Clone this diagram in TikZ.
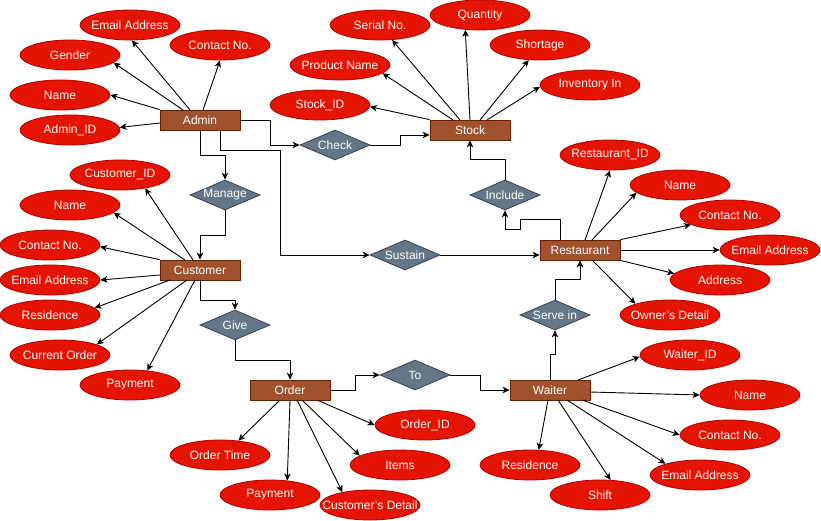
\documentclass[tikz,border=0pt]{standalone}
\usepackage{fontspec}
\setmainfont{Liberation Sans}
\usetikzlibrary{shapes.geometric,arrows.meta,calc}
\definecolor{attrfill}{HTML}{E51400}
\definecolor{attrline}{HTML}{B20000}
\definecolor{entfill}{HTML}{A0522D}
\definecolor{entline}{HTML}{6D1F00}
\definecolor{relfill}{HTML}{647687}
\definecolor{relline}{HTML}{314354}
\newcommand{\zw}[1]{\makebox[0pt][c]{#1}}
\newcommand{\apos}{{\char39}}
\begin{document}
\begin{tikzpicture}[x=1pt,y=-1pt,
  base/.style={text=white, inner sep=0pt, font=\fontsize{12}{14}\selectfont, line width=0.8pt},
  attr/.style={base, ellipse, fill=attrfill, draw=attrline, minimum width=100pt, minimum height=30pt},
  ent/.style={base, rectangle, fill=entfill, draw=entline, minimum width=80pt, minimum height=20pt},
  rel/.style={base, diamond, fill=relfill, draw=relline, minimum width=70pt, minimum height=30pt},
  arr/.style={-{Stealth[length=7pt,width=6.5pt,inset=2pt]}, line width=0.9pt, black}]
\fill[white] (0,0) rectangle (821,521);
\useasboundingbox (0,0) rectangle (821,521);

% entities
\node[ent] (admin) at (200,120) {\zw{Admin}};
\node[ent] (stock) at (470,130) {\zw{Stock}};
\node[ent] (restaurant) at (580,250) {\zw{Restaurant}};
\node[ent] (customer) at (200,270) {\zw{Customer}};
\node[ent] (order) at (290,390) {\zw{Order}};
\node[ent] (waiter) at (550,390) {\zw{Waiter}};

% relationships
\node[rel] (check) at (335,145) {\zw{Check}};
\node[rel] (manage) at (225,195) {\zw{Manage}};
\node[rel] (sustain) at (405,255) {\zw{Sustain}};
\node[rel] (include) at (505,195) {\zw{Include}};
\node[rel] (give) at (235,325) {\zw{Give}};
\node[rel] (to) at (415,375) {\zw{To}};
\node[rel] (servein) at (555,315) {\zw{Serve in}};

% admin attributes
\node[attr] (aemail) at (130,25) {\zw{Email Address}};
\node[attr] (acontact) at (220,45) {\zw{Contact No.}};
\node[attr] (agender) at (70,55) {\zw{Gender}};
\node[attr] (aname) at (60,95) {\zw{Name}};
\node[attr] (aid) at (70,130) {\zw{Admin\_ID}};

% stock attributes
\node[attr] (sserial) at (380,25) {\zw{Serial No.}};
\node[attr] (squant) at (480,15) {\zw{Quantity}};
\node[attr] (sshort) at (540,45) {\zw{Shortage}};
\node[attr] (sprod) at (340,65) {\zw{Product Name}};
\node[attr] (sid) at (320,105) {\zw{Stock\_ID}};
\node[attr] (sinv) at (590,85) {\zw{Inventory In}};

% restaurant attributes
\node[attr] (rid) at (610,155) {\zw{Restaurant\_ID}};
\node[attr] (rname) at (680,185) {\zw{Name}};
\node[attr] (rcontact) at (730,215) {\zw{Contact No.}};
\node[attr] (remail) at (770,250) {\zw{Email Address}};
\node[attr] (raddr) at (720,280) {\zw{Address}};
\node[attr] (rowner) at (670,315) {\zw{Owner\apos s Detail}};

% customer attributes
\node[attr] (cid) at (120,175) {\zw{Customer\_ID}};
\node[attr] (cname) at (70,205) {\zw{Name}};
\node[attr] (ccontact) at (50,245) {\zw{Contact No.}};
\node[attr] (cemail) at (50,280) {\zw{Email Address}};
\node[attr] (cres) at (50,315) {\zw{Residence}};
\node[attr] (ccur) at (60,355) {\zw{Current Order}};
\node[attr] (cpay) at (130,385) {\zw{Payment}};

% order attributes
\node[attr] (oid) at (425,425) {\zw{Order\_ID}};
\node[attr] (oitems) at (400,465) {\zw{Items}};
\node[attr] (ocust) at (370,505) {\zw{Customer\apos s Detail}};
\node[attr] (opay) at (270,495) {\zw{Payment}};
\node[attr] (otime) at (220,455) {\zw{Order Time}};

% waiter attributes
\node[attr] (wid) at (690,355) {\zw{Waiter\_ID}};
\node[attr] (wname) at (750,395) {\zw{Name}};
\node[attr] (wcontact) at (730,435) {\zw{Contact No.}};
\node[attr] (wemail) at (700,475) {\zw{Email Address}};
\node[attr] (wshift) at (600,495) {\zw{Shift}};
\node[attr] (wres) at (530,465) {\zw{Residence}};

% attribute connectors
\draw[arr] ($(admin)+(-10,-10)$) -- (aemail.277);
\draw[arr] ($(admin)+(3,-10)$) -- (acontact.270);
\draw[arr] ($(admin)+(-17,-10)$) -- (agender.350);
\draw[arr] (admin.north west) -- (aname.0);
\draw[arr] ($(admin)+(-40,3)$) -- (aid.3);

\draw[arr] ($(stock)+(-10,-10)$) -- (sserial.309);
\draw[arr] ($(stock)+(0,-10)$) -- (squant.225);
\draw[arr] ($(stock)+(10,-10)$) -- (sshort.233);
\draw[arr] ($(stock)+(-17,-10)$) -- (sprod.349);
\draw[arr] (stock.north west) -- (sid.358);
\draw[arr] ($(stock)+(17,-10)$) -- (sinv.182);

\draw[arr] ($(restaurant)+(5,-10)$) -- (rid.270);
\draw[arr] ($(restaurant)+(12,-10)$) -- (rname.190);
\draw[arr] (restaurant.north east) -- (rcontact.194);
\draw[arr] (restaurant.east) -- (remail.180);
\draw[arr] (restaurant.south east) -- (raddr.172);
\draw[arr] ($(restaurant)+(12,10)$) -- (rowner.162);

\draw[arr] ($(customer)+(-7,-10)$) -- (cid.332);
\draw[arr] ($(customer)+(-15,-10)$) -- (cname.350);
\draw[arr] (customer.north west) -- (ccontact.358);
\draw[arr] ($(customer)+(-40,5)$) -- (cemail.0);
\draw[arr] ($(customer)+(-30,10)$) -- (cres.9);
\draw[arr] ($(customer)+(-13,10)$) -- (ccur.16);
\draw[arr] ($(customer)+(-5,10)$) -- (cpay.40);

\draw[arr] ($(order)+(27,10)$) -- (oid.180);
\draw[arr] ($(order)+(12,10)$) -- (oitems.167);
\draw[arr] ($(order)+(7,10)$) -- (ocust.155);
\draw[arr] (order.south) -- (opay.40);
\draw[arr] ($(order)+(-10,10)$) -- (otime.38);

\draw[arr] ($(waiter)+(28,-10)$) -- (wid.182);
\draw[arr] ($(waiter)+(40,2)$) -- (wname.180);
\draw[arr] ($(waiter)+(32,10)$) -- (wcontact.180);
\draw[arr] ($(waiter)+(17,10)$) -- (wemail.162);
\draw[arr] ($(waiter)+(8,10)$) -- (wshift.55);
\draw[arr] ($(waiter)+(-2,10)$) -- (wres.60);

% relationship connectors
\draw[arr] (admin.east) -- ++(30,0) |- (check.west);
\draw[arr] (check.east) -- ++(30,0) |- ($(stock.west)+(0,5)$);
\draw[arr] (admin.south) -- ++(0,25) -| (manage.north);
\draw[arr] ($(admin.south)+(20,0)$) -- ++(0,20) -- ++(60,0) |- (sustain.west);
\draw[arr] (sustain.east) -- (sustain.east -| restaurant.west);
\draw[arr] ($(restaurant.north)+(-20,0)$) -- ++(0,-20) -- ++(-40,0) -- ++(0,10) -| (include.south);
\draw[arr] (include.north) -- ++(0,-20) -| (stock.south);
\draw[arr] (manage.south) -- ++(0,25) -| (customer.north);
\draw[arr] (customer.south) -- ++(0,20) -| (give.north);
\draw[arr] (give.south) -- ++(0,20) -| (order.north);
\draw[arr] (order.east) -- ++(25,0) |- (to.west);
\draw[arr] (to.east) -- ++(30,0) |- (waiter.west);
\draw[arr] (waiter.north) -- ++(0,-25) -| (servein.south);
\draw[arr] (servein.north) -- ++(0,-20) -| (restaurant.south);
\end{tikzpicture}
\end{document}
